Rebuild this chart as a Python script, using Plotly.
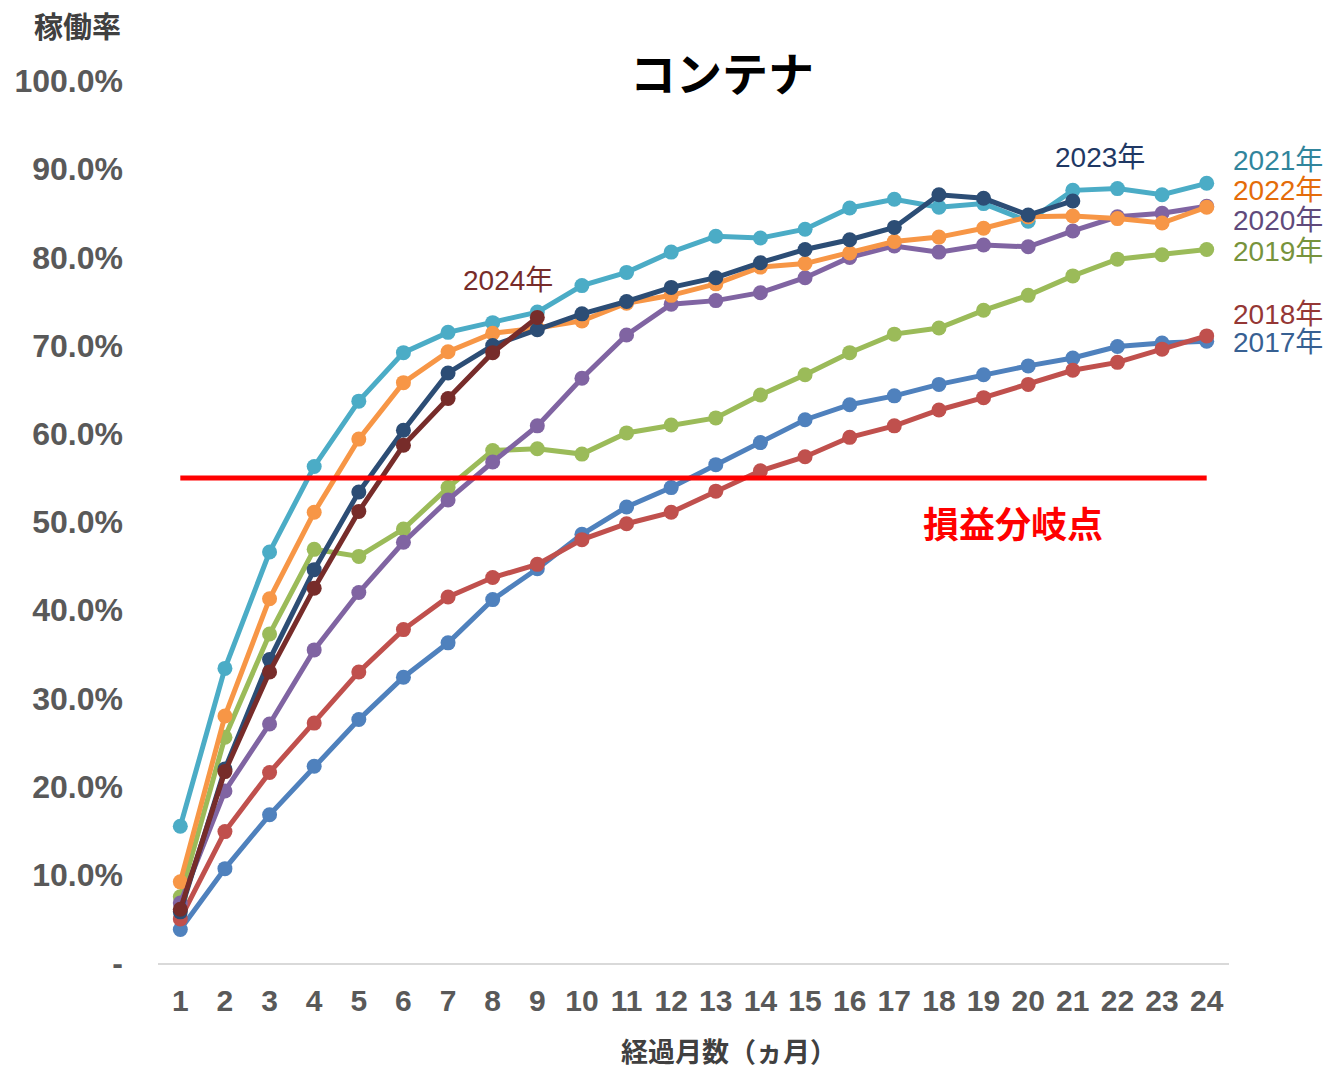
import plotly.graph_objects as go

# 経過月数（1〜24ヵ月）
months = list(range(1, 25))

# 年別の稼働率（%）
rate_2017 = [3.8, 10.7, 16.8, 22.3, 27.6, 32.4, 36.3, 41.2, 44.7, 48.6, 51.7, 53.9, 56.5, 59.0,
             61.6, 63.3, 64.3, 65.6, 66.7, 67.7, 68.6, 69.9, 70.3, 70.5]
rate_2018 = [5.0, 14.9, 21.6, 27.2, 33.0, 37.8, 41.5, 43.7, 45.2, 48.0, 49.8, 51.1, 53.5, 55.8,
             57.4, 59.6, 60.9, 62.7, 64.1, 65.6, 67.2, 68.1, 69.6, 71.1]
rate_2019 = [7.5, 25.6, 37.3, 46.9, 46.1, 49.2, 53.9, 58.1, 58.3, 57.7, 60.1, 61.0, 61.8, 64.4,
             66.7, 69.2, 71.3, 72.0, 74.0, 75.7, 77.9, 79.8, 80.3, 80.9]
rate_2020 = [6.8, 19.5, 27.1, 35.5, 42.0, 47.7, 52.5, 56.8, 60.9, 66.3, 71.2, 74.7, 75.1, 76.0,
             77.7, 80.0, 81.3, 80.6, 81.4, 81.2, 83.0, 84.6, 85.0, 85.8]
rate_2021 = [15.5, 33.4, 46.6, 56.3, 63.7, 69.2, 71.5, 72.6, 73.8, 76.8, 78.3, 80.6, 82.4, 82.2,
             83.2, 85.6, 86.6, 85.7, 86.1, 84.1, 87.6, 87.8, 87.1, 88.4]
rate_2022 = [9.2, 28.0, 41.3, 51.1, 59.4, 65.8, 69.3, 71.4, 72.0, 72.8, 74.8, 75.7, 77.0, 78.9,
             79.3, 80.5, 81.8, 82.3, 83.3, 84.6, 84.7, 84.4, 83.9, 85.7]
rate_2023 = [5.8, 22.0, 34.4, 44.6, 53.4, 60.4, 66.9, 70.0, 71.8, 73.6, 75.0, 76.6, 77.7, 79.4,
             80.9, 82.0, 83.4, 87.1, 86.7, 84.8, 86.4]
rate_2024 = [6.1, 21.7, 33.0, 42.5, 51.2, 58.7, 64.0, 69.2, 73.2]

# 損益分岐点（%）
break_even = 55.0

# y軸目盛
y_ticks = [0, 10, 20, 30, 40, 50, 60, 70, 80, 90, 100]
y_tick_text = ["-"] + [f"{v:.1f}%" for v in y_ticks[1:]]

series = [
    ("2017年", rate_2017, "#4F81BD"),
    ("2018年", rate_2018, "#C0504D"),
    ("2019年", rate_2019, "#9BBB59"),
    ("2020年", rate_2020, "#8064A2"),
    ("2021年", rate_2021, "#4BACC6"),
    ("2022年", rate_2022, "#F79646"),
    ("2023年", rate_2023, "#2C4D75"),
    ("2024年", rate_2024, "#772C2A"),
]

# 系列ラベルの配置（xref/yref と座標）と文字色
label_style = {
    "2017年": dict(xref="paper", x=1.002, y=70.4, xanchor="left", color="#376092"),
    "2018年": dict(xref="paper", x=1.002, y=73.5, xanchor="left", color="#953735"),
    "2019年": dict(xref="paper", x=1.002, y=80.7, xanchor="left", color="#77933C"),
    "2020年": dict(xref="paper", x=1.002, y=84.2, xanchor="left", color="#604A7B"),
    "2021年": dict(xref="paper", x=1.002, y=91.0, xanchor="left", color="#31859C"),
    "2022年": dict(xref="paper", x=1.002, y=87.6, xanchor="left", color="#E46C0A"),
    "2023年": dict(xref="x", x=21.6, y=91.3, xanchor="center", color="#1F3864"),
    "2024年": dict(xref="x", x=8.35, y=77.4, xanchor="center", color="#772C2A"),
}

FONT = "Liberation Sans, Arial, Noto Sans CJK JP, sans-serif"
CJK_BOLD = "Noto Sans CJK JP, sans-serif"

fig = go.Figure()

for name, values, color in series:
    fig.add_trace(go.Scatter(
        x=months[:len(values)], y=values, name=name, mode="lines+markers",
        line=dict(color=color, width=5),
        marker=dict(color=color, size=15),
        hoverinfo="x+y+name",
    ))

# 損益分岐点ライン
fig.add_trace(go.Scatter(
    x=[months[0], months[-1]], y=[break_even, break_even], mode="lines",
    line=dict(color="#FF0000", width=5), hoverinfo="skip", showlegend=False,
))

for name, st in label_style.items():
    fig.add_annotation(
        x=st["x"], y=st["y"], xref=st["xref"], yref="y", text=name, showarrow=False,
        xanchor=st["xanchor"], yanchor="middle",
        font=dict(family=FONT, size=28, color=st["color"]),
    )

fig.add_annotation(
    x=19.65, y=50.0, xref="x", yref="y", text="<b>損益分岐点</b>", showarrow=False,
    xanchor="center", yanchor="middle",
    font=dict(family=CJK_BOLD, size=36, color="#FF0000"),
)

# 軸見出し
fig.add_annotation(
    x=-0.0747, y=1.063, xref="paper", yref="paper", text="<b>稼働率</b>", showarrow=False,
    xanchor="center", yanchor="middle",
    font=dict(family=CJK_BOLD, size=29, color="#404040"),
)
fig.add_annotation(
    x=(729 - 158) / 1071, y=-(1050 - 963) / 882, xref="paper", yref="paper",
    text="<b>経過月数（ヵ月）</b>", showarrow=False,
    xanchor="center", yanchor="middle",
    font=dict(family=CJK_BOLD, size=27, color="#404040"),
)

fig.update_layout(
    width=1329, height=1069,
    margin=dict(l=158, r=100, t=81, b=106, autoexpand=False),
    paper_bgcolor="white", plot_bgcolor="white",
    showlegend=False,
    title=dict(
        text="<b>コンテナ</b>", x=722 / 1329, y=1 - 75 / 1069,
        xref="container", yref="container", xanchor="center", yanchor="middle",
        font=dict(family=CJK_BOLD, size=46, color="#000000"),
    ),
    xaxis=dict(
        range=[0.5, 24.5], tickmode="array", tickvals=months,
        ticktext=[f"<b>{m}</b>" for m in months],
        tickfont=dict(family=FONT, size=30, color="#595959"),
        showgrid=False, zeroline=False, showline=True, linecolor="#D9D9D9", linewidth=2,
        ticks="", ticklabelstandoff=10, automargin=False,
    ),
    yaxis=dict(
        range=[0, 100], tickmode="array", tickvals=y_ticks,
        ticktext=[f"<b>{t}</b>" for t in y_tick_text],
        tickfont=dict(family=FONT, size=32, color="#595959"),
        showgrid=False, zeroline=False, showline=False,
        ticks="", ticklabelstandoff=34, automargin=False,
    ),
)

fig.write_html("out.html")
